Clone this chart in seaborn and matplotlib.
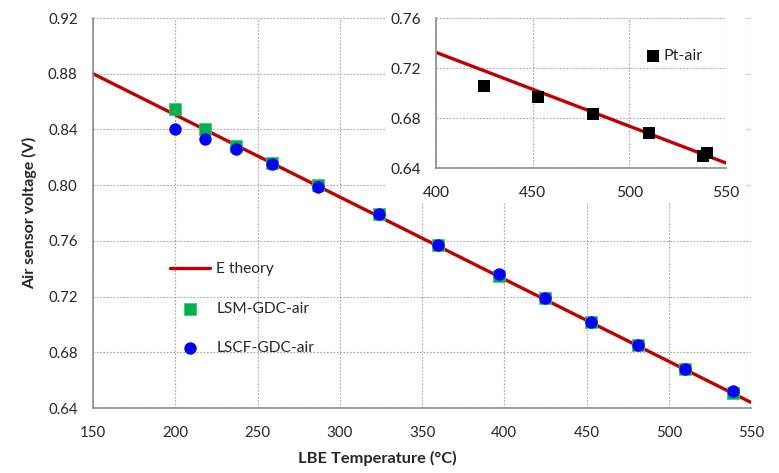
import numpy as np
import pandas as pd
import seaborn as sns
import matplotlib.pyplot as plt
from matplotlib.patches import Rectangle

# theory line end points (LBE temperature in C, voltage in V)
theory_t = [150, 550]
theory_v = [0.880, 0.644]

# LSM-GDC-air cell
lsm_t = [200, 218, 237, 259, 287, 324, 360, 397, 425, 453, 481, 510, 539]
lsm_v = [0.855, 0.840, 0.828, 0.816, 0.800, 0.779, 0.757, 0.735, 0.719, 0.702, 0.685, 0.668, 0.651]

# LSCF-GDC-air cell
lscf_t = [200, 218, 237, 259, 287, 324, 360, 397, 425, 453, 481, 510, 539]
lscf_v = [0.840, 0.833, 0.826, 0.815, 0.799, 0.779, 0.757, 0.736, 0.719, 0.702, 0.685, 0.668, 0.652]

# Pt-air cell (inset)
pt_t = [425, 453, 481, 510, 538, 540]
pt_v = [0.706, 0.697, 0.683, 0.668, 0.650, 0.652]

sns.set_style("white")
plt.rcParams['font.family'] = ['Lato', 'DejaVu Sans']

red = "#C00000"
green = "#00B050"
blue = "#0000FF"
gray = "#8C8C8C"

theory = pd.DataFrame({"t": theory_t, "v": theory_v})
lsm = pd.DataFrame({"t": lsm_t, "v": lsm_v})
lscf = pd.DataFrame({"t": lscf_t, "v": lscf_v})
pt = pd.DataFrame({"t": pt_t, "v": pt_v})


def style_axes(ax, xticks, yticks, fs):
    ax.set_xticks(xticks)
    ax.set_yticks(yticks)
    ax.set_yticklabels(["%.2f" % y for y in yticks])
    ax.grid(True, color="#A6A6A6", linestyle=(0, (1.5, 1.5)), linewidth=0.8)
    for s in ["top", "right"]:
        ax.spines[s].set_visible(False)
    for s in ["left", "bottom"]:
        ax.spines[s].set_color(gray)
        ax.spines[s].set_linewidth(1.2)
    ax.tick_params(axis="both", direction="out", length=5, width=1.2, color=gray,
                   labelsize=fs, labelcolor="#262626", pad=6)
    ax.tick_params(axis="x", pad=8)


fig = plt.figure(figsize=(7.79, 4.73), dpi=100)
ax = fig.add_axes([0.1194, 0.1374, 0.8447, 0.8245])

sns.lineplot(data=theory, x="t", y="v", color=red, linewidth=2.4, ax=ax, label="E theory", zorder=2)
sns.scatterplot(data=lsm, x="t", y="v", marker="s", color=green, s=85, edgecolor="#33CC66",
                linewidth=0.5, ax=ax, label="LSM-GDC-air", zorder=3)
sns.scatterplot(data=lscf, x="t", y="v", marker="o", color=blue, s=80, edgecolor=blue,
                linewidth=0, ax=ax, label="LSCF-GDC-air", zorder=4)

ax.set_xlim(150, 550)
ax.set_ylim(0.64, 0.92)
style_axes(ax, np.arange(150, 551, 50), np.round(np.arange(0.64, 0.921, 0.04), 2), 10.8)
ax.set_xlabel("LBE Temperature (°C)", fontsize=11.8, fontweight="bold")
ax.set_ylabel("Air sensor voltage (V)", fontsize=11.5, fontweight="bold", labelpad=8)
ax.xaxis.set_label_coords(0.432, -0.11)

ax.legend(loc="upper left", bbox_to_anchor=(0.095, 0.41), frameon=False, fontsize=11.2,
          labelspacing=1.65, handlelength=2.6, handletextpad=0.4)

# white box hiding the main grid behind the inset
fig.patches.append(Rectangle((0.494, 0.57), 0.462, 0.43, transform=fig.transFigure,
                             facecolor="white", edgecolor="none", zorder=1))

ins = fig.add_axes([0.5597, 0.6448, 0.3723, 0.3171], zorder=2)
sns.lineplot(data=theory, x="t", y="v", color=red, linewidth=2.4, ax=ins, zorder=2)
sns.scatterplot(data=pt, x="t", y="v", marker="s", color="black", s=85, linewidth=0,
                ax=ins, label="Pt-air", zorder=3)
ins.set_xlim(400, 550)
ins.set_ylim(0.64, 0.76)
style_axes(ins, np.arange(400, 551, 50), np.round(np.arange(0.64, 0.761, 0.04), 2), 11.2)
ins.set_xlabel("")
ins.set_ylabel("")
ins.legend(loc="upper right", bbox_to_anchor=(0.97, 0.89), frameon=False, fontsize=11.5,
           handletextpad=0.1, handlelength=1.2)

fig.savefig("out.png", dpi=100)
